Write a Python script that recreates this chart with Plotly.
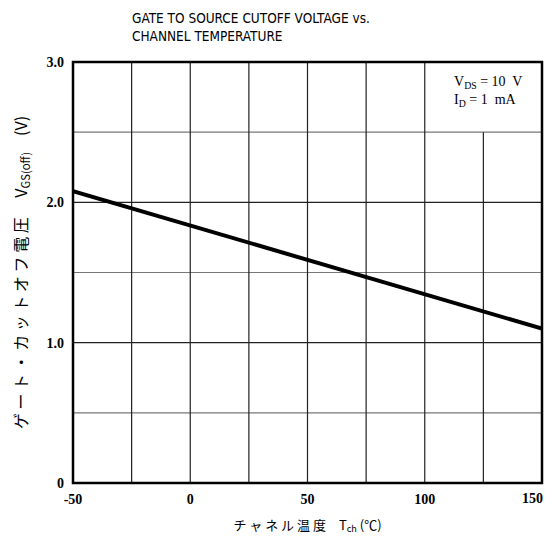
import plotly.graph_objects as go

temps = [-50, 150]
vgs_off = [2.08, 1.10]
x_ticks = [-50, 0, 50, 100, 150]
x_tick_labels = ["-50", "0", "50", "100", "150"]
y_ticks = [0, 1.0, 2.0, 3.0]
y_tick_labels = ["0", "1.0", "2.0", "3.0"]
x_grid = [-25, 0, 25, 50, 75, 100, 125]
y_grid = [0.5, 1.0, 1.5, 2.0, 2.5]

fig = go.Figure()
fig.add_trace(go.Scatter(x=temps, y=vgs_off, mode="lines",
                         line=dict(color="black", width=4), showlegend=False))

shapes = []
for gx in x_grid:
    # the last vertical grid line stops below the condition box
    top = 2.5 if gx == x_grid[-1] else 3.0
    shapes.append(dict(type="line", xref="x", yref="y", x0=gx, x1=gx, y0=0, y1=top,
                       line=dict(color="#222", width=1.2), layer="below"))
for gy in y_grid:
    col = "#222" if gy in (1.0, 2.0) else "#777"
    shapes.append(dict(type="line", xref="paper", yref="y", x0=0, x1=1, y0=gy, y1=gy,
                       line=dict(color=col, width=1.2), layer="below"))
shapes.append(dict(type="rect", xref="paper", yref="paper", x0=0, x1=1, y0=0, y1=1,
                   line=dict(color="black", width=2.5)))

tick_font = dict(family="Liberation Serif", size=14, color="black", weight="bold")

# last x tick label drawn right-aligned at the plot edge so it is not clipped
axis_ticktext = x_tick_labels[:-1] + [""]

fig.update_layout(
    width=537, height=528,
    margin=dict(l=65, r=3, t=54, b=53),
    plot_bgcolor="white", paper_bgcolor="white",
    shapes=shapes,
    xaxis=dict(range=[-50, 150], tickvals=x_ticks, ticktext=axis_ticktext,
               showgrid=False, zeroline=False, showline=False, ticks="",
               automargin=False, ticklabelstandoff=6, ticklabeloverflow="allow",
               tickfont=tick_font,
               title=dict(text="チ ャ ネ ル 温 度　T<sub>ch</sub> (℃)",
                          font=dict(family="Noto Sans CJK JP", size=13, color="black"),
                          standoff=14)),
    yaxis=dict(range=[0, 3.0], tickvals=y_ticks, ticktext=y_tick_labels,
               showgrid=False, zeroline=False, showline=False, ticks="",
               automargin=False, ticklabelstandoff=8, ticklabeloverflow="allow",
               tickfont=tick_font,
               title=dict(text="ゲ ー ト ・ カ ッ ト オ フ 電 圧　 V<sub>GS(off)</sub>　(V)",
                          font=dict(family="Noto Sans CJK JP", size=16, color="black"),
                          standoff=15)),
    annotations=[
        dict(text=x_tick_labels[-1], xref="x", yref="paper", x=x_ticks[-1], y=0,
             xanchor="right", yanchor="top", xshift=3, yshift=-6, showarrow=False,
             font=tick_font),
        dict(text="GATE TO SOURCE CUTOFF VOLTAGE vs.<br>CHANNEL TEMPERATURE",
             xref="paper", yref="paper", x=(130 - 73) / 469, y=1.0, yshift=54,
             xanchor="left", yanchor="top", align="left", showarrow=False,
             font=dict(family="DejaVu Sans Condensed, Roboto", size=13.5, color="black")),
        dict(text="V<sub>DS</sub> = 10  V<br>I<sub>D</sub> = 1  mA",
             xref="paper", yref="paper", x=1.0, y=1.0, xshift=-18, yshift=-10,
             xanchor="right", yanchor="top", align="left", showarrow=False,
             font=dict(family="Liberation Serif", size=14, color="black")),
    ],
)

fig.write_html("out.html")
